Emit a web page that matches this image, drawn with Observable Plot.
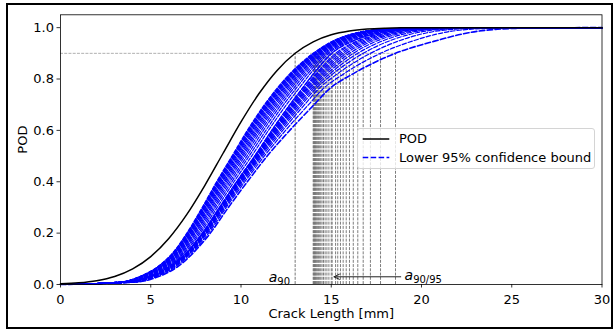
<!DOCTYPE html>
<html>
<head>
<meta charset="utf-8">
<script src="https://cdn.jsdelivr.net/npm/d3@7"></script>
<script src="https://cdn.jsdelivr.net/npm/@observablehq/plot@0.6"></script>
<style>
  html, body { margin: 0; padding: 0; background: #fff; }
  #wrap { position: relative; width: 616px; height: 331px; overflow: hidden; background: #fff;
          font-family: "DejaVu Sans", sans-serif; }
  #wrap svg.plot { position: absolute; left: 0; top: 0; }
  #border { position: absolute; left: 6px; top: 3px; width: 603px; height: 322px;
            border: 2px solid #000; pointer-events: none; }
  #legend { position: absolute; left: 357px; top: 128px; width: 238px; height: 41px;
            box-sizing: border-box; border: 1px solid #d4d4d4; border-radius: 3px;
            background: rgba(255,255,255,0.8); }
  #legend .txt { position: absolute; left: 41px; top: 1px; font-size: 13px; line-height: 18.5px;
                 color: #000; white-space: nowrap; }
</style>
</head>
<body>
<div id="wrap"></div>
<script>
// ---------- data ----------
const xTicks = [0, 5, 10, 15, 20, 25, 30];
const yTicks = [0, 0.2, 0.4, 0.6, 0.8, 1.0];
const xLabel = "Crack Length [mm]";
const yLabel = "POD";
const legendLabels = ["POD", "Lower 95% confidence bound"];

// POD curve (black)
const podX = [0,1,2,3,4,5,6,7,8,9,10,11,12,13,14,15,16,17,18,19,20,22,25,30];
const podY = [0.0025,0.0064,0.0148,0.0313,0.0609,0.1088,0.1793,0.2730,0.3862,0.5100,0.6330,0.7435,
              0.8336,0.9003,0.9449,0.9721,0.9870,0.9945,0.9978,0.9992,0.9998,1.0,1.0,1.0];

const a90 = 13.0;
const podLevel = 0.9;

// a90/95 of every lower-bound curve (vertical dashed lines)
const a9095 = [14.00,14.03,14.06,14.09,14.12,14.16,14.20,14.25,14.30,14.36,14.42,14.49,14.57,14.66,
               14.76,14.87,15.00,15.05,15.24,15.36,15.51,15.66,15.83,16.01,16.22,16.47,16.77,17.17,
               17.73,18.56];

// POD levels at which the crack length of each lower-bound curve was read
const boundLevels = [0,0.01,0.03,0.07,0.13,0.2,0.3,0.4,0.5,0.6,0.7,0.76,0.82,0.9,0.95,0.98,0.995,0.9995,1];

// crack length of each lower 95% bound curve at those levels
const boundX = [
 [0,3.40,4.35,5.40,6.30,7.00,7.85,8.65,9.50,10.35,11.30,11.95,12.70,14.00,15.15,16.40,18.10,21.00,30],
 [0,3.41,4.37,5.42,6.32,7.03,7.88,8.68,9.54,10.39,11.34,11.99,12.74,14.03,15.18,16.44,18.14,21.04,30],
 [0,3.42,4.38,5.44,6.35,7.05,7.91,8.72,9.58,10.43,11.38,12.03,12.78,14.06,15.22,16.47,18.17,21.07,30],
 [0,3.44,4.40,5.45,6.37,7.08,7.94,8.75,9.61,10.47,11.43,12.08,12.82,14.09,15.25,16.51,18.21,21.11,30],
 [0,3.45,4.42,5.47,6.39,7.10,7.96,8.78,9.65,10.51,11.47,12.12,12.86,14.12,15.28,16.54,18.24,21.14,30],
 [0,3.46,4.44,5.50,6.42,7.14,8.00,8.83,9.70,10.57,11.52,12.17,12.91,14.16,15.33,16.59,18.29,21.19,30],
 [0,3.48,4.46,5.52,6.45,7.17,8.04,8.87,9.75,10.62,11.58,12.23,12.96,14.20,15.37,16.64,18.34,21.24,30],
 [0,3.50,4.49,5.55,6.49,7.21,8.09,8.93,9.81,10.69,11.65,12.30,13.03,14.25,15.43,16.70,18.40,21.30,30],
 [0,3.52,4.52,5.58,6.53,7.26,8.14,8.98,9.88,10.76,11.72,12.37,13.09,14.30,15.48,16.76,18.46,21.36,30],
 [0,3.54,4.55,5.62,6.57,7.31,8.19,9.05,9.95,10.84,11.80,12.45,13.17,14.36,15.55,16.83,18.53,21.43,30],
 [0,3.57,4.58,5.65,6.62,7.36,8.25,9.11,10.03,10.92,11.89,12.54,13.25,14.42,15.61,16.90,18.60,21.50,30],
 [0,3.60,4.62,5.69,6.67,7.42,8.32,9.19,10.11,11.01,11.99,12.64,13.34,14.49,15.69,16.99,18.69,21.59,30],
 [0,3.63,4.66,5.74,6.73,7.48,8.39,9.28,10.21,11.12,12.10,12.75,13.44,14.57,15.78,17.08,18.78,21.68,30],
 [0,3.66,4.71,5.80,6.80,7.56,8.48,9.38,10.33,11.24,12.22,12.87,13.56,14.66,15.88,17.19,18.89,21.79,30],
 [0,3.70,4.77,5.86,6.87,7.65,8.57,9.49,10.45,11.38,12.36,13.01,13.69,14.76,15.99,17.31,19.01,21.91,30],
 [0,3.75,4.83,5.92,6.95,7.74,8.68,9.61,10.59,11.52,12.52,13.17,13.83,14.87,16.11,17.44,19.14,22.04,30],
 [0,3.80,4.90,6.00,7.05,7.85,8.80,9.75,10.75,11.70,12.70,13.35,14.00,15.00,16.25,17.60,19.30,22.20,30],
 [0,3.81,4.91,6.01,7.06,7.86,8.81,9.76,10.76,11.71,12.72,13.37,14.03,15.05,16.30,17.65,19.35,22.25,30],
 [0,3.83,4.93,6.03,7.08,7.88,8.83,9.79,10.80,11.77,12.79,13.45,14.15,15.24,16.50,17.85,19.55,22.45,30],
 [0,3.85,4.95,6.05,7.09,7.90,8.85,9.81,10.82,11.80,12.84,13.50,14.22,15.36,16.62,17.97,19.68,22.57,30],
 [0,3.87,4.97,6.07,7.11,7.91,8.87,9.84,10.85,11.84,12.89,13.57,14.31,15.51,16.78,18.14,19.84,22.74,30],
 [0,3.89,4.99,6.09,7.12,7.93,8.89,9.86,10.88,11.89,12.95,13.63,14.41,15.66,16.95,18.31,20.02,22.90,30],
 [0,3.92,5.02,6.12,7.14,7.95,8.92,9.89,10.91,11.93,13.01,13.70,14.51,15.83,17.14,18.51,20.22,23.10,30],
 [0,3.94,5.04,6.14,7.16,7.98,8.94,9.92,10.95,11.98,13.08,13.78,14.62,16.01,17.34,18.73,20.44,23.31,30],
 [0,3.97,5.07,6.17,7.19,8.00,8.97,9.96,10.99,12.04,13.16,13.87,14.75,16.22,17.59,18.99,20.71,23.57,30],
 [0,4.01,5.11,6.21,7.22,8.04,9.01,10.00,11.04,12.11,13.26,13.98,14.91,16.47,17.90,19.32,21.05,23.88,30],
 [0,4.05,5.15,6.25,7.25,8.07,9.05,10.05,11.10,12.20,13.37,14.11,15.09,16.77,18.28,19.73,21.48,24.28,30],
 [0,4.11,5.21,6.31,7.29,8.12,9.11,10.12,11.18,12.31,13.52,14.28,15.34,17.17,18.81,20.31,22.08,24.83,30],
 [0,4.18,5.28,6.38,7.36,8.20,9.18,10.21,11.29,12.47,13.74,14.52,15.69,17.73,19.60,21.18,22.99,25.66,30],
 [0,4.30,5.40,6.50,7.45,8.30,9.30,10.35,11.45,12.70,14.05,14.87,16.20,18.56,20.86,22.60,24.50,27.00,30]
];

// annotations
const annA90 = [{x: 12.72, y: 0.008, main: "a", sub: "90"}];
const annA9095 = [{x: 19.06, y: 0.016, main: "a", sub: "90/95"}];
const arrowData = [{x1: 18.85, y1: 0.03, x2: 15.15, y2: 0.03}];

// ---------- build tables ----------
const podRows = podX.map((x, i) => ({x, y: podY[i]}));
const boundRows = boundX.flatMap((xs, i) => xs.map((x, j) => ({curve: i, x, y: boundLevels[j]})));
const nDense = 17;
const lastCurve = boundX.length - 1;
const denseRows = boundRows.filter(d => d.curve < nDense);
const outerRows = boundRows.filter(d => d.curve >= nDense && d.curve < lastCurve);
const outerMostRows = boundRows.filter(d => d.curve === lastCurve);
const dash = "2.96,1.28";

const plot = Plot.plot({
  width: 616,
  height: 331,
  marginLeft: 60,
  marginRight: 14.5,
  marginTop: 14.3,
  marginBottom: 47,
  style: {fontFamily: '"DejaVu Sans", sans-serif', fontSize: "13px", color: "#000", background: "transparent", overflow: "visible"},
  x: {domain: [0, 30]},
  y: {domain: [0, 1.05]},
  marks: [
    Plot.ruleX(a9095, {x: d => d, y1: 0, y2: podLevel, stroke: "#6e6e6e", strokeWidth: 0.9, strokeDasharray: dash}),
    Plot.ruleY([podLevel], {y: d => d, x1: 0, x2: d3.max(a9095), stroke: "#9a9a9a", strokeWidth: 0.8, strokeDasharray: dash}),
    Plot.ruleX([a90], {x: d => d, y1: 0, y2: podLevel, stroke: "#555", strokeWidth: 0.8, strokeDasharray: dash}),
    Plot.line(denseRows, {x: "x", y: "y", z: "curve", stroke: "#0000ff", strokeWidth: 1.2, strokeDasharray: "3.7,1.6", curve: "monotone-x"}),
    Plot.line(outerRows, {x: "x", y: "y", z: "curve", stroke: "#0000ff", strokeWidth: 1.2, strokeDasharray: "4.4,1.9", curve: "monotone-x"}),
    Plot.line(outerMostRows, {x: "x", y: "y", z: "curve", stroke: "#0000ff", strokeWidth: 1.6, strokeDasharray: "5.55,2.4", curve: "monotone-x"}),
    Plot.line(podRows, {x: "x", y: "y", stroke: "#000", strokeWidth: 1.5, curve: "monotone-x"}),
    Plot.arrow(arrowData, {x1: "x1", y1: "y1", x2: "x2", y2: "y2", stroke: "#222", strokeWidth: 1, headLength: 9, headAngle: 50}),
    Plot.text(annA90, {x: "x", y: "y", text: d => d.main + d.sub, textAnchor: "end", lineAnchor: "bottom", fontSize: 14}),
    Plot.text(annA9095, {x: "x", y: "y", text: d => d.main + d.sub, textAnchor: "start", lineAnchor: "bottom", fontSize: 14}),
    Plot.frame({stroke: "#000", strokeWidth: 0.8}),
    Plot.axisX({ticks: xTicks, tickSize: 3.5, tickPadding: 6.5, tickFormat: d => String(d), label: null, strokeWidth: 0.8}),
    Plot.axisY({ticks: yTicks, tickSize: 3.5, tickPadding: 3, tickFormat: d3.format(".1f"), label: null, strokeWidth: 0.8}),
    Plot.text([xLabel], {frameAnchor: "bottom", dy: 33, text: d => d, fontSize: 13}),
    Plot.text([yLabel], {frameAnchor: "left", dx: -38, dy: 4, rotate: -90, text: d => d, fontSize: 13})
  ]
});
plot.classList.add("plot");

// math-style subscripts for the annotations
const ns = "http://www.w3.org/2000/svg";
const annAll = annA90.concat(annA9095);
plot.querySelectorAll("text").forEach(t => {
  const a = annAll.find(d => d.main + d.sub === t.textContent);
  if (!a) return;
  t.textContent = "";
  const t1 = document.createElementNS(ns, "tspan");
  t1.setAttribute("font-style", "italic");
  t1.setAttribute("font-size", "14");
  t1.textContent = a.main;
  const t2 = document.createElementNS(ns, "tspan");
  t2.setAttribute("font-size", "10");
  t2.setAttribute("dy", "2.5");
  t2.textContent = a.sub;
  t.appendChild(t1);
  t.appendChild(t2);
});

const wrap = document.getElementById("wrap");
wrap.appendChild(plot);

const border = document.createElement("div");
border.id = "border";
wrap.appendChild(border);

// legend
const legend = document.createElement("div");
legend.id = "legend";
legend.innerHTML =
  '<svg width="40" height="39" style="position:absolute;left:0;top:0">' +
  '<line x1="4.7" x2="31.3" y1="10" y2="10" stroke="#000" stroke-width="1.5"/>' +
  '<line x1="4.7" x2="31.3" y1="28.5" y2="28.5" stroke="#0000ff" stroke-width="1.5" stroke-dasharray="5.55,2.4"/>' +
  '</svg>' +
  '<div class="txt">' + legendLabels.join("<br>") + '</div>';
wrap.appendChild(legend);
</script>
</body>
</html>
